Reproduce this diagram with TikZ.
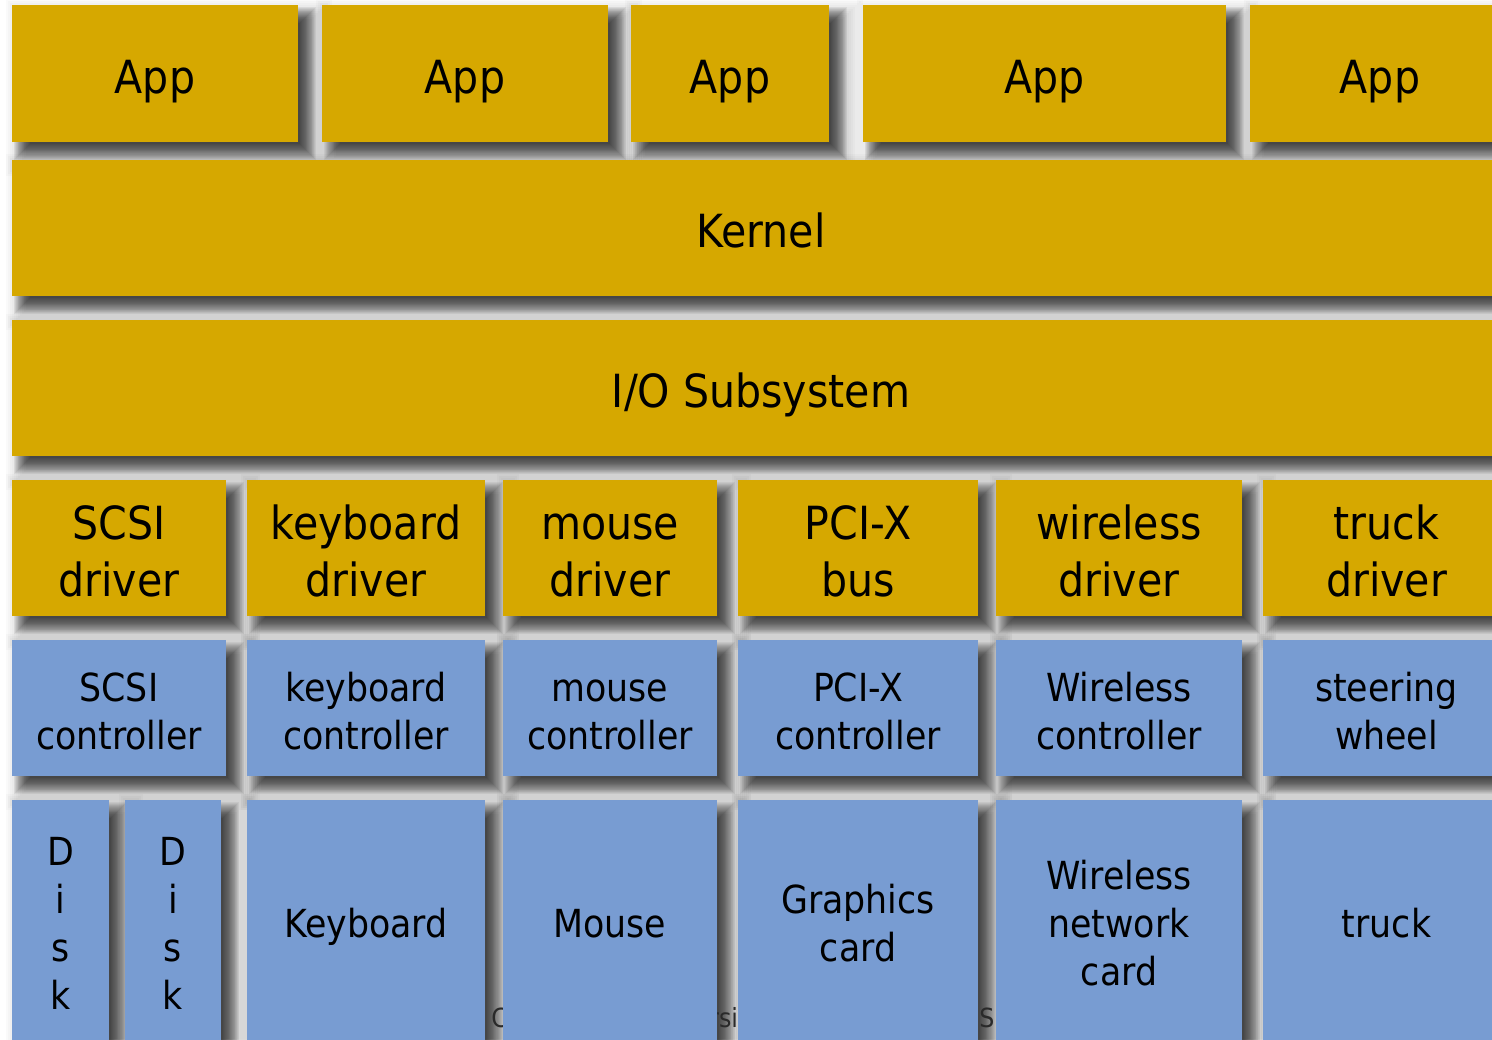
\documentclass[tikz,border=0pt]{standalone}
\usepackage{fontspec}
\setmainfont{DejaVu Sans Condensed}
\definecolor{boxgold}{HTML}{D6A800}
\definecolor{boxblue}{HTML}{789CD2}
\definecolor{footgray}{HTML}{2A2A2A}
\pgfdeclarelayer{bg}
\pgfdeclarelayer{shadow}
\pgfsetlayers{bg,shadow,main}
\newcommand\mystrut{\rule{0pt}{0.95em}\rule[-0.25em]{0pt}{0.25em}}
\tikzset{
  goldbox/.style={fill=boxgold, draw=none, inner sep=0pt},
  bluebox/.style={fill=boxblue, draw=none, inner sep=0pt},
  goldtext/.style={inner sep=0pt, align=center, font=\fontsize{26}{33}\selectfont},
  bluetext/.style={inner sep=0pt, align=center, font=\fontsize{22}{27.3}\selectfont},
  foot/.style={inner sep=0pt, text=footgray, font=\fontsize{15}{18}\selectfont}
}
% name, kind (gold/blue), x1, y1, x2, y2, text
\newcommand\blk[7]{%
  \begin{pgfonlayer}{shadow}
    \foreach \e in {-8,-7,...,8}
      \fill[black,opacity=0.055] (#3+10-\e,#4+10-\e) rectangle (#5+10+\e,#6+10+\e);
    \foreach \e in {0,2,...,20}
      \fill[black,opacity=0.018] (#3+14-\e,#4+14-\e) rectangle (#5+14+\e,#6+14+\e);
  \end{pgfonlayer}
  \node[#2box, minimum width={(#5-#3)*0.02cm}, minimum height={(#6-#4)*0.02cm}] (#1) at ({(#3+#5)/2},{(#4+#6)/2}) {};
  \node[#2text, yshift=-0.08cm] (#1-label) at (#1.center) {\mystrut#7\mystrut};
}
\begin{document}
\begin{tikzpicture}[x=0.02cm,y=-0.02cm]
\useasboundingbox (0,0) rectangle (1492,1039);
\begin{pgfonlayer}{bg}
  \fill[white] (0,0) rectangle (1492,1039);
\end{pgfonlayer}
% footer fragments peeking through gaps
\node[foot, anchor=base west] (f1) at (491,1027) {C};
\node[foot, anchor=base west] (f2) at (709,1027) {rsi};
\node[foot, anchor=base west] (f3) at (979,1027) {S};
% apps
\blk{app1}{gold}{12}{5}{298}{142}{App}
\blk{app2}{gold}{322}{5}{608}{142}{App}
\blk{app3}{gold}{631}{5}{829}{142}{App}
\blk{app4}{gold}{863}{5}{1226}{142}{App}
\blk{app5}{gold}{1250}{5}{1510}{142}{App}
% kernel, io
\blk{kernel}{gold}{12}{160}{1510}{296}{Kernel}
\blk{io}{gold}{12}{320}{1510}{456}{I/O Subsystem}
% drivers
\blk{d1}{gold}{12}{480}{226}{616}{SCSI\\driver}
\blk{d2}{gold}{247}{480}{485}{616}{keyboard\\driver}
\blk{d3}{gold}{503}{480}{717}{616}{mouse\\driver}
\blk{d4}{gold}{738}{480}{978}{616}{PCI-X\\bus}
\blk{d5}{gold}{996}{480}{1242}{616}{wireless\\driver}
\blk{d6}{gold}{1263}{480}{1510}{616}{truck\\driver}
% controllers
\blk{c1}{blue}{12}{640}{226}{776}{SCSI\\controller}
\blk{c2}{blue}{247}{640}{485}{776}{keyboard\\controller}
\blk{c3}{blue}{503}{640}{717}{776}{mouse\\controller}
\blk{c4}{blue}{738}{640}{978}{776}{PCI-X\\controller}
\blk{c5}{blue}{996}{640}{1242}{776}{Wireless\\controller}
\blk{c6}{blue}{1263}{640}{1510}{776}{steering\\wheel}
% devices
\blk{v1}{blue}{12}{800}{109}{1040}{D\\i\\s\\k}
\blk{v2}{blue}{125}{800}{221}{1040}{D\\i\\s\\k}
\blk{v3}{blue}{247}{800}{485}{1040}{Keyboard}
\blk{v4}{blue}{503}{800}{717}{1040}{Mouse}
\blk{v5}{blue}{738}{800}{978}{1040}{Graphics\\card}
\blk{v6}{blue}{996}{800}{1242}{1040}{Wireless\\network\\card}
\blk{v7}{blue}{1263}{800}{1510}{1040}{truck}
\end{tikzpicture}
\end{document}
